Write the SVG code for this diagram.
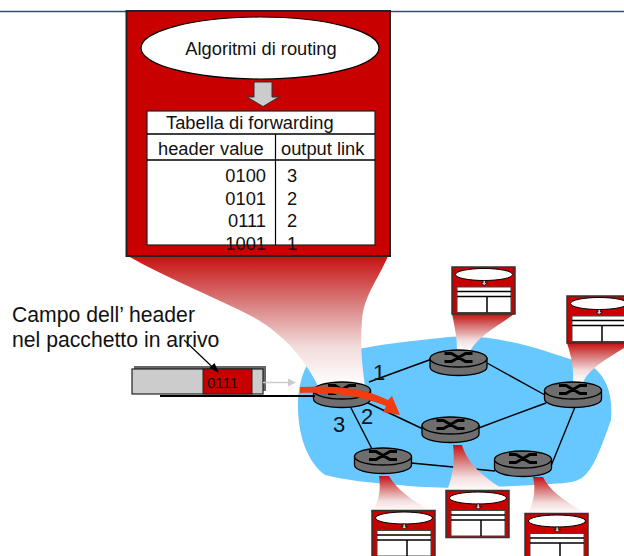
<svg xmlns="http://www.w3.org/2000/svg" xmlns:xlink="http://www.w3.org/1999/xlink" width="624" height="556" viewBox="0 0 624 556">
<style>
text{font-family:"Liberation Sans",Arial,sans-serif;fill:#111}
.t16{font-size:18.300px}
.lbl{font-size:21.200px}
.num{font-size:22px}
.link{stroke:#000;stroke-width:1.400;fill:none}
.fun{fill:url(#fade);stroke:none}
.rt-b{fill:#6e6e6e;stroke:#000;stroke-width:1.300}
.tb{fill:#fff;stroke:#222;stroke-width:1.200}
.rule{stroke:#000;stroke-width:1.500;fill:none}
</style>
<defs>
<linearGradient id="fade" x1="0" y1="0" x2="0" y2="1">
<stop offset="0" stop-color="#c81010"/>
<stop offset="0.35" stop-color="#d87a7a"/>
<stop offset="0.7" stop-color="#f3dcdc"/>
<stop offset="1" stop-color="#ffffff"/>
</linearGradient>
<g id="router">
<path class="rt-b" d="M-28.500 0V8.500C-28.500 13.500 -16 17 0 17C16 17 28.500 13.500 28.500 8.500V0Z"/>
<ellipse class="rt-b" cx="0" cy="0" rx="28.500" ry="8.500"/>
<path d="M-14 -5H-7L7 3H14M-14 3H-7L7 -5H14" fill="none" stroke="#000" stroke-width="3"/>
</g>
<g id="mini">
<rect x="0" y="0" width="63" height="47" fill="#c80000" stroke="#333" stroke-width="1.500"/>
<ellipse cx="32" cy="7.500" rx="28.500" ry="6" fill="#fff" stroke="#000"/>
<path d="M31 13.500H33.500V16H35.500L32.200 18.500L29 16H31Z" fill="#ccc" stroke="#000" stroke-width="0.700"/>
<rect x="5" y="20" width="54" height="25.500" fill="#fff" stroke="#444" stroke-width="1"/>
<path d="M5 24.500H59M5 29.500H59M35 29.500V45.500" stroke="#000" stroke-width="1.500" fill="none"/>
</g>
</defs>
<rect width="624" height="556" fill="#fff"/>
<line x1="0" y1="11.500" x2="624" y2="11.500" stroke="#2f4f6b" stroke-width="1.300"/>

<path id="cloud" d="M307 365C330 350 400 342 440 338C490 332 530 345 593 367C607 378 613 395 611 420C604 440 595 465 587 473C580 482 570 483 550 484C500 487 440 490 400 485C370 483 345 480 325 475C305 460 297 430 298 400C299 385 302 375 307 365Z" fill="#66c8ff"/>

<g id="connectors">
<path class="link" d="M369 382L432 359"/>
<path class="link" d="M487 363L545 395"/>
<path class="link" d="M546 403L476 429"/>
<path class="link" d="M366 402L423 429"/>
<path class="link" d="M350 406L372 449"/>
<path class="link" d="M411 463L495 471"/>
<path class="link" d="M575 407L551 466"/>
</g>

<g id="funnels">
<path class="fun" d="M128 256H388C378 280 364 295 362 320C360 345 362 365 365 386H318C305 360 285 335 253 317C215 297 170 280 128 256Z"/>
<path class="fun" d="M452 314H514C495 328 478 336 470 351H457C457 338 455 328 452 314Z"/>
<path class="fun" d="M567 343H624V348C605 360 590 368 583 382H573C574 368 571 356 567 343Z"/>
<path class="fun" d="M379 476H389C397 490 412 500 430 511H373C379 500 381 490 379 476Z"/>
<path class="fun" d="M453 445H462C468 465 485 478 506 491H447C453 475 455 460 453 445Z"/>
<path class="fun" d="M533 477H543C550 492 568 503 587 514H528C534 500 536 490 533 477Z"/>
</g>

<g id="router-1"><use xlink:href="#router" href="#router" x="342" y="390.500"/></g>
<g id="router-2"><use xlink:href="#router" href="#router" x="458.500" y="358.500"/></g>
<g id="router-3"><use xlink:href="#router" href="#router" x="573" y="390.500"/></g>
<g id="router-4"><use xlink:href="#router" href="#router" x="450.500" y="425.500"/></g>
<g id="router-5"><use xlink:href="#router" href="#router" x="383" y="456.500"/></g>
<g id="router-6"><use xlink:href="#router" href="#router" x="523" y="459.500"/></g>

<g id="table-a"><use xlink:href="#mini" href="#mini" x="452" y="267"/></g>
<g id="table-b"><use xlink:href="#mini" href="#mini" x="567" y="296"/></g>
<g id="table-c"><use xlink:href="#mini" href="#mini" x="372" y="510.500"/></g>
<g id="table-d"><use xlink:href="#mini" href="#mini" x="446" y="490.500"/></g>
<g id="table-e"><use xlink:href="#mini" href="#mini" x="525" y="513.500"/></g>

<g id="main-box">
<rect x="126.500" y="11" width="263.500" height="245" fill="#c80000" stroke="#222" stroke-width="2"/>
<ellipse cx="260" cy="48" rx="119" ry="31" fill="#fff" stroke="#000" stroke-width="1.200"/>
<text x="261" y="55" text-anchor="middle" class="t16">Algoritmi di routing</text>
<path d="M254 82H272V97H279L263 106.500L247 97H254Z" fill="#ccc" stroke="#333"/>
<rect class="tb" x="147" y="111" width="228" height="134"/>
<path class="rule" d="M147 134H375M147 160H375"/>
<path d="M275.500 134V245" stroke="#000" stroke-width="1.200"/>
<text x="166" y="129" class="t16">Tabella di forwarding</text>
<text x="158" y="155" class="t16">header value</text>
<text x="281" y="155" class="t16">output link</text>
<text x="266" y="182" text-anchor="end" class="t16">0100</text>
<text x="266" y="205" text-anchor="end" class="t16">0101</text>
<text x="266" y="227" text-anchor="end" class="t16">0111</text>
<text x="266" y="250" text-anchor="end" class="t16">1001</text>
<text x="287" y="182" class="t16">3</text>
<text x="287" y="205" class="t16">2</text>
<text x="287" y="227" class="t16">2</text>
<text x="287" y="250" class="t16">1</text>
</g>

<g id="packet">
<rect x="134" y="366" width="132" height="25" fill="#666"/>
<rect x="132" y="369" width="131" height="25" fill="#ccc" stroke="#222" stroke-width="1.200"/>
<rect x="203" y="369" width="49" height="25" fill="#c80000" stroke="#222" stroke-width="1"/>
<text x="207" y="388" font-size="15">0111</text>
</g>
<path d="M160 396H315" stroke="#000" stroke-width="2" fill="none"/>
<path d="M263 382.500H289" stroke="#ccc" stroke-width="1.500" fill="none"/>
<path d="M296 382.500L288 378.500V386.500Z" fill="#ccc"/>
<path d="M184 340L215 369.500" stroke="#000" stroke-width="1.200" fill="none"/>
<path d="M219 373L209.500 368L214.500 363Z" fill="#000"/>
<path id="flow" d="M300 387C335 385 365 388 388 400L392 396L400 415L383 412L386 406C360 396 335 392 300 393Z" fill="#f03c10"/>

<text x="12" y="322" class="lbl">Campo dell’ header</text>
<text x="12" y="347" class="lbl">nel pacchetto in arrivo</text>
<text x="373" y="380" class="num">1</text>
<text x="361" y="424" class="num">2</text>
<text x="333" y="432" class="num">3</text>
</svg>
